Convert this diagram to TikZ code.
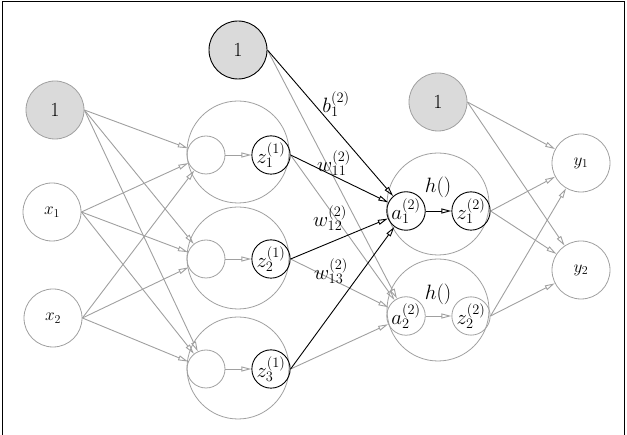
\documentclass[tikz,border=0pt]{standalone}
\usetikzlibrary{arrows.meta}
\definecolor{lg}{HTML}{A0A0A0}
\definecolor{bf}{HTML}{DADADA}
\begin{document}
\begin{tikzpicture}[x=1pt,y=-1pt,
  gn/.style={circle,draw=lg,line width=0.8pt,inner sep=0pt},
  bn/.style={circle,draw=black,line width=0.9pt,inner sep=0pt},
  big/.style={gn,minimum size=102},
  sm/.style={minimum size=38},
  io/.style={gn,minimum size=58,font=\fontsize{17}{19}\selectfont},
  biasn/.style={minimum size=58,fill=bf,font=\fontsize{20}{22}\selectfont},
  lab/.style={font=\fontsize{22}{24}\selectfont},
  ga/.style={draw=lg,line width=0.9pt,-{Triangle[open,length=10pt,width=5pt]}},
  ba/.style={draw=black,line width=0.9pt,-{Triangle[open,length=10pt,width=5pt]}}]
\useasboundingbox (0,0) rectangle (627,435);
\draw[line width=1pt] (2,435) -- (2,2) -- (624,2) -- (624,435);
% input layer
\node[gn,biasn] (b0) at (55,110) {1};
\node[io] (x1) at (52,212) {$x_1$};
\node[io] (x2) at (53,318) {$x_2$};
% hidden layer 1
\node[big] (H1) at (238,152) {};
\node[big] (H2) at (238,258) {};
\node[big] (H3) at (238,368) {};
\node[gn,sm] (s1) at (206,155) {};
\node[gn,sm] (s2) at (206,259) {};
\node[gn,sm] (s3) at (206,369) {};
\node[bn,sm,lab] (z1) at (271,155) {$z_1^{(1)}$};
\node[bn,sm,lab] (z2) at (271,259) {$z_2^{(1)}$};
\node[bn,sm,lab] (z3) at (271,369) {$z_3^{(1)}$};
\node[bn,biasn] (b1) at (238,50) {1};
% layer 2
\node[gn,biasn] (b2) at (438,102) {1};
\node[big] (A1) at (438,204) {};
\node[big] (A2) at (438,310) {};
\node[bn,sm,lab] (a1) at (406,211) {$a_1^{(2)}$};
\node[bn,sm,lab] (h1) at (471,211) {$z_1^{(2)}$};
\node[gn,sm,lab] (a2) at (406,316) {$a_2^{(2)}$};
\node[gn,sm,lab] (h2) at (471,316) {$z_2^{(2)}$};
\node[lab] (f1) at (438,187) {$h()$};
\node[lab] (f2) at (438,294) {$h()$};
% output
\node[io] (y1) at (581,163) {$y_1$};
\node[io] (y2) at (581,270) {$y_2$};
% edges input -> hidden
\foreach \a in {b0,x1,x2}{\foreach \b in {s1,s2,s3}{\draw[ga] (\a.east) -- (\b);}}
\draw[ga] (s1) -- (z1);
\draw[ga] (s2) -- (z2);
\draw[ga] (s3) -- (z3);
% hidden -> layer 2
\draw[ga] (b1.east) -- (a2);
\draw[ga] (z1.east) -- (a2);
\draw[ga] (z2.east) -- (a2);
\draw[ga] (z3.east) -- (a2);
\draw[ba] (b1.east) -- (a1);
\draw[ba] (z1.east) -- (a1);
\draw[ba] (z2.east) -- (a1);
\draw[ba] (z3.east) -- (a1);
\draw[ba] (a1) -- (h1);
\draw[ga] (a2) -- (h2);
% layer 2 -> output
\foreach \a in {b2,h1,h2}{\foreach \b in {y1,y2}{\draw[ga] (\a.east) -- (\b);}}
% weight labels
\node[lab] (lb) at (336,104) {$b_1^{(2)}$};
\node[lab] (lw1) at (334,163) {$w_{11}^{(2)}$};
\node[lab] (lw2) at (330,218) {$w_{12}^{(2)}$};
\node[lab] (lw3) at (331,271) {$w_{13}^{(2)}$};
\end{tikzpicture}
\end{document}
